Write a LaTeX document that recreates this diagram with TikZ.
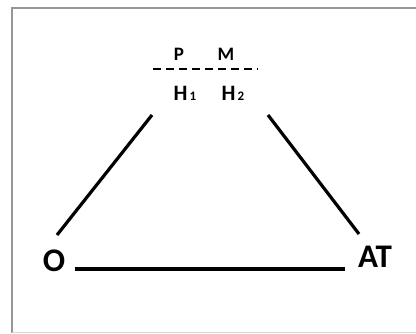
\documentclass[tikz,border=0pt]{standalone}
\usepackage{fontspec}
\setmainfont{Carlito}
\usepackage{tikz}
\definecolor{frameGray}{RGB}{150, 150, 150}

\begin{document}
\begin{tikzpicture}[x=1pt, y=-1pt,
      label/.style={font=\bfseries, inner sep=0pt, anchor=base},
      big/.style={label, font=\fontsize{33}{33}\selectfont\bfseries},
      mid/.style={label, font=\fontsize{22}{22}\selectfont\bfseries},
      small/.style={label, font=\fontsize{19}{19}\selectfont\bfseries},
      side/.style={line width=3.2pt},
      split/.style={line width=1.8pt, dash pattern=on 8pt off 5pt}]
      \useasboundingbox (0,0) rectangle (416,333);

      % frame
      \draw[frameGray, line width=1.3pt] (12,333) -- (12,8) -- (416,8);
      \draw[frameGray!40, line width=1pt] (12,332) -- (416,332);

      \node[small] (p) at (179,60) {P};
      \node[small] (m) at (226,60) {M};
      \node[mid] (h1) at (185,100) {H{\fontsize{13}{13}\selectfont\,1}};
      \node[mid] (h2) at (233,100) {H{\fontsize{13}{13}\selectfont\,2}};
      \node[big] (o) at (54,271) {O};
      \node[big] (at) at (375,267) {AT};

      \coordinate (splitL) at (153,69);
      \coordinate (splitR) at (258,69);
      \coordinate (h1end) at (152,115);
      \coordinate (h2end) at (268,115);
      \coordinate (oTop) at (57,235);
      \coordinate (atTop) at (359,234);
      \coordinate (oRight) at (75,269);
      \coordinate (atLeft) at (345,269);

      \draw[split] (splitL) -- (splitR);
      \draw[side] (h1end) -- (oTop);
      \draw[side] (h2end) -- (atTop);
      \draw[side] (oRight) -- (atLeft);
  \end{tikzpicture}
\end{document}
